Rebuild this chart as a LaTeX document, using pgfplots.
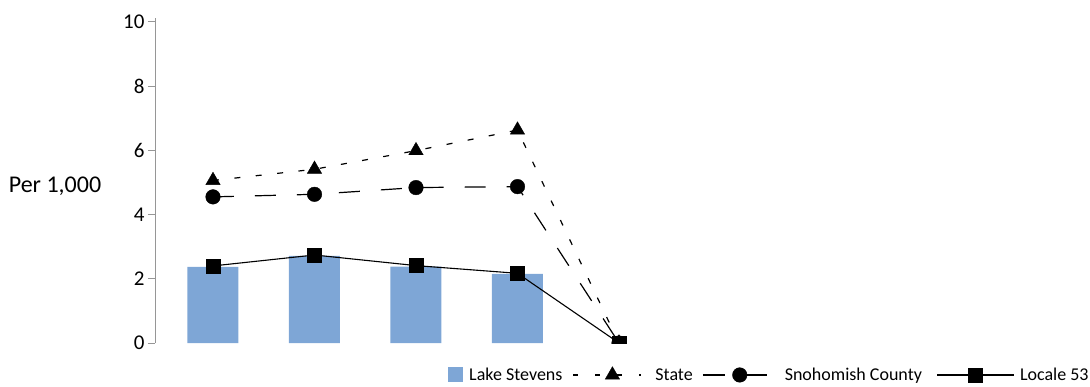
\documentclass[border=0pt]{standalone}
\usepackage{fontspec}
\setmainfont{Carlito}
\usepackage{pgfplots}
\pgfplotsset{compat=1.18}
\definecolor{barblue}{RGB}{126,166,214}
\definecolor{axgray}{RGB}{150,150,150}
\begin{document}
\begin{tikzpicture}
\useasboundingbox (-155pt,-43pt) rectangle (935pt,343pt);
\begin{axis}[
  scale only axis,
  width=900pt, height=325pt,
  xmin=0.4286, xmax=9.2956,
  ymin=0, ymax=10.12,
  axis x line=none,
  axis y line=left,
  axis line style={-, axgray, line width=0.9pt},
  ytick={0,2,4,6,8,10},
  tick align=outside,
  major tick length=7pt,
  ytick style={axgray, line width=0.9pt},
  clip marker paths=true,
  /pgf/number format/assume math mode=true,
  yticklabel style={font=\fontsize{21}{24}\selectfont, black},
  ylabel={Per 1,000},
  every axis y label/.style={at={(axis description cs:0,0.5)}, anchor=center, xshift=-100pt, yshift=-6pt, font=\fontsize{24}{28}\selectfont},
  legend columns=4,
  legend style={at={(axis description cs:0.3256,-0.0969)}, anchor=west, draw=none, fill=none,
    inner xsep=0pt, inner ysep=0pt, nodes={inner sep=0pt, anchor=west},
    font=\fontsize{18}{21}\selectfont,
    /tikz/every even column/.append style={column sep=0pt},
    /tikz/every odd column/.append style={column sep=0pt}},
  legend cell align=left,
]
\addplot[ybar, bar width=51pt, fill=barblue, draw=none,
  legend image code/.code={\fill[barblue] (0pt,-7pt) rectangle (15pt,8pt); \path[draw=none, fill=none] (0pt,0pt) -- (21pt,0pt);}]
  coordinates {(1,2.37) (2,2.71) (3,2.38) (4,2.15)};
\addlegendentry{Lake Stevens}
\addplot[black, line width=1.2pt, dash pattern=on 6pt off 15.5pt, mark=triangle*, mark size=8.3pt,
  mark options={solid, fill=black, line width=0.4pt},
  legend image code/.code={\path[draw=none, fill=none] (-11pt,0pt) -- (82pt,0pt);
    \draw[dash pattern=on 5pt off 17pt, mark repeat=2, mark phase=2] plot coordinates {(0pt,0pt) (39pt,0pt) (68pt,0pt)};}]
  coordinates {(1,5.06) (2,5.41) (3,5.99) (4,6.63) (5,0)};
\addlegendentry{State}
\addplot[black, line width=1.2pt, dash pattern=on 21pt off 21pt, mark=*, mark size=7.3pt,
  mark options={solid, fill=black, line width=0.4pt},
  legend image code/.code={\path[draw=none, fill=none] (-10pt,0pt) -- (82pt,0pt);
    \draw[solid] (0pt,0pt) -- (22pt,0pt);
    \draw[solid] (44pt,0pt) -- (64pt,0pt);
    \draw[draw=none, mark repeat=2, mark phase=2] plot coordinates {(0pt,0pt) (37pt,0pt) (64pt,0pt)};}]
  coordinates {(1,4.55) (2,4.63) (3,4.84) (4,4.87) (5,0)};
\addlegendentry{Snohomish County}
\addplot[black, line width=1.1pt, mark=square*, mark size=7pt,
  mark options={solid, fill=black, line width=0.4pt},
  legend image code/.code={\path[draw=none, fill=none] (-15pt,0pt) -- (83pt,0pt);
    \draw[mark repeat=2, mark phase=2] plot coordinates {(0pt,0pt) (38pt,0pt) (77pt,0pt)};}]
  coordinates {(1,2.40) (2,2.74) (3,2.41) (4,2.17) (5,0)};
\addlegendentry{Locale 53}
\end{axis}
\end{tikzpicture}
\end{document}
